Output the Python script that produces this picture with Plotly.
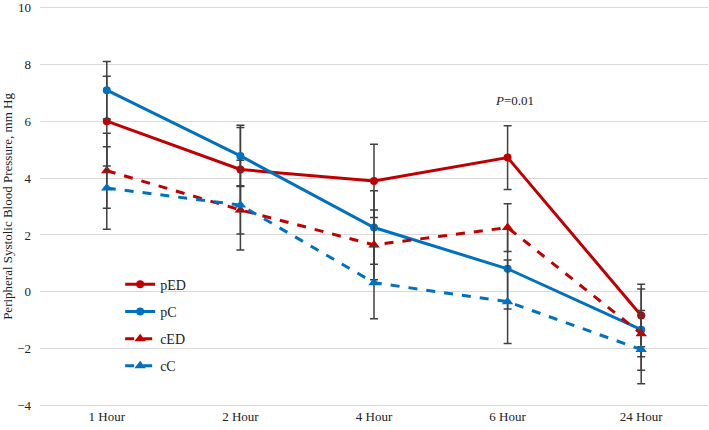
import plotly.graph_objects as go

categories = ["1 Hour", "2 Hour", "4 Hour", "6 Hour", "24 Hour"]

pED = [6.0, 4.3, 3.9, 4.72, -0.83]
pED_err = [1.58, 1.48, 1.29, 1.12, 1.10]
pC = [7.09, 4.78, 2.26, 0.81, -1.33]
pC_err = [1.01, 1.08, 1.29, 1.41, 1.43]
cED = [4.26, 2.88, 1.65, 2.26, -1.47]
cED_err = [1.32, 0.85, 1.23, 0.84, 0.81]
cC = [3.65, 3.05, 0.32, -0.35, -2.03]
cC_err = [1.45, 1.58, 1.27, 1.47, 1.20]

RED = "#C00000"
BLUE = "#0070C0"
FONT = "Liberation Serif"

series = [
    ("pED", pED, pED_err, RED, "solid", "circle", 8),
    ("pC", pC, pC_err, BLUE, "solid", "circle", 8),
    ("cED", cED, cED_err, RED, "dash", "triangle-up", 10),
    ("cC", cC, cC_err, BLUE, "dash", "triangle-up", 10),
]

fig = go.Figure()
for name, vals, errs, color, dash, sym, msize in series:
    fig.add_trace(go.Scatter(
        x=categories, y=vals, name=name, legendgroup=name,
        mode="lines+markers",
        line=dict(color=color, width=3, dash=dash),
        marker=dict(color=color, symbol=sym, size=msize),
        error_y=dict(type="data", array=errs, visible=True,
                     color="#404040", thickness=1.5, width=4),
    ))

fig.add_annotation(
    x=3.05, y=6.74, xref="x", yref="y",
    text="<i>P</i>=0.01", showarrow=False,
    font=dict(family=FONT, size=13, color="#222"),
)

fig.update_layout(
    width=709, height=430,
    margin=dict(l=40, r=1, t=6, b=23),
    plot_bgcolor="white", paper_bgcolor="white",
    font=dict(family=FONT, size=13, color="#222"),
    showlegend=True,
    legend=dict(x=0.12, y=0.345, xanchor="left", yanchor="top",
                bgcolor="rgba(0,0,0,0)", tracegroupgap=6,
                traceorder="grouped",
                font=dict(family=FONT, size=14, color="#222")),
    xaxis=dict(type="category", range=[-0.5, 4.5], showgrid=False,
               showline=False, ticks="", tickfont=dict(size=13)),
    yaxis=dict(range=[-4.05, 10.05], tickvals=[-4, -2, 0, 2, 4, 6, 8, 10],
               showgrid=True, gridcolor="#d9d9d9",
               gridwidth=1, zeroline=False, showline=False, ticks="",
               ticklabelstandoff=8, ticklabeloverflow="allow",
               tickfont=dict(size=13),
               title=dict(text="Peripheral Systolic Blood Pressure, mm Hg",
                          font=dict(size=13), standoff=6)),
)

fig.write_html("out.html", config={"displayModeBar": False},
               post_script="document.body.style.margin='0px';")
